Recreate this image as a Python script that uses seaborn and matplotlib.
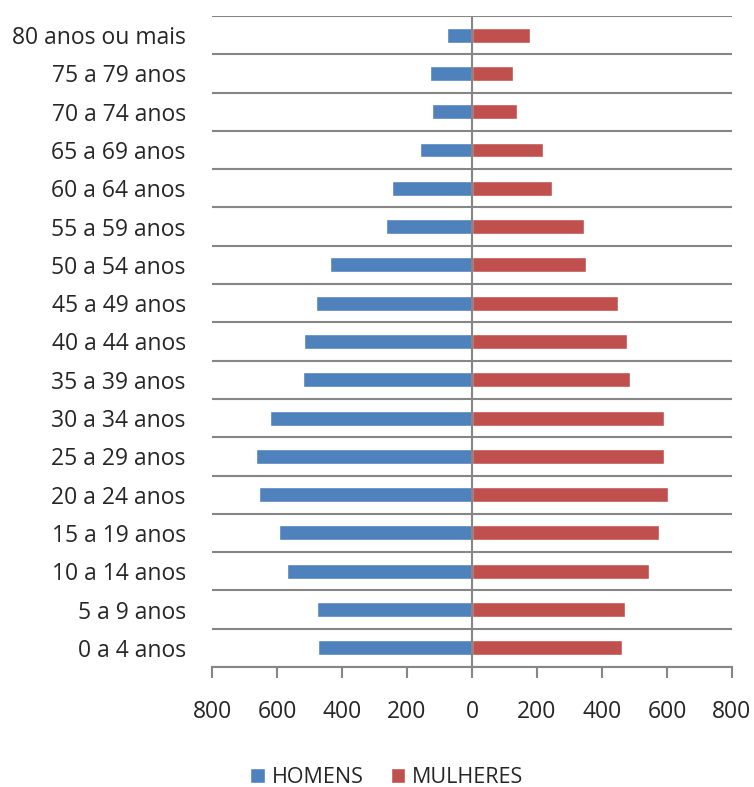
import numpy as np
import pandas as pd
import matplotlib
matplotlib.use('Agg')
import matplotlib.pyplot as plt
import seaborn as sns
from matplotlib.patches import Patch

# Dados (da faixa mais nova para a mais velha)
faixas = ['0 a 4 anos', '5 a 9 anos', '10 a 14 anos', '15 a 19 anos', '20 a 24 anos',
          '25 a 29 anos', '30 a 34 anos', '35 a 39 anos', '40 a 44 anos', '45 a 49 anos',
          '50 a 54 anos', '55 a 59 anos', '60 a 64 anos', '65 a 69 anos', '70 a 74 anos',
          '75 a 79 anos', '80 anos ou mais']
homens = [473, 477, 570, 595, 656, 664, 621, 519, 518, 480, 438, 264, 246, 161, 122, 128, 78]
mulheres = [463, 470, 544, 574, 603, 590, 591, 487, 478, 448, 350, 345, 247, 220, 138, 126, 178]
series = ['HOMENS', 'MULHERES']
cores = ['#4F81BD', '#C0504D']
ticks_x = [-800, -600, -400, -200, 0, 200, 400, 600, 800]

df = pd.DataFrame({
    'faixa': faixas * 2,
    'valor': [-v for v in homens] + mulheres,
    'sexo': [series[0]] * len(faixas) + [series[1]] * len(faixas),
})

sns.set_style('white')
plt.rcParams['font.family'] = ['Open Sans', 'DejaVu Sans']

fig = plt.figure(figsize=(7.54, 7.87), dpi=100)
ax = fig.add_axes([0.2812, 0.1525, 0.6896, 0.8272])

sns.barplot(data=df, x='valor', y='faixa', hue='sexo', order=faixas[::-1],
            hue_order=series, palette=cores, dodge=False, width=0.39,
            orient='h', ax=ax, legend=False, saturation=1)

ax.set_xlim(-800, 800)
ax.set_ylim(len(faixas) - 0.5, -0.5)
ax.set_xticks(ticks_x)
ax.set_xticklabels([str(abs(t)) for t in ticks_x])
ax.set_xlabel('')
ax.set_ylabel('')

# linhas de grade entre as categorias
ax.set_yticks(np.arange(-0.5, len(faixas), 1), minor=True)
ax.grid(True, which='minor', axis='y', color='#868686', linewidth=1.5)
ax.grid(False, which='major')
ax.axvline(0, color='#868686', linewidth=1.5, zorder=3)

for s in ['left', 'right', 'top']:
    ax.spines[s].set_visible(False)
ax.spines['bottom'].set_color('#868686')
ax.spines['bottom'].set_linewidth(1.5)

ax.tick_params(axis='x', which='major', direction='out', length=8, width=1.5,
               color='#868686', labelsize=16.5, pad=16, bottom=True)
ax.tick_params(axis='y', which='both', length=0, labelsize=16.5, pad=19)

handles = [Patch(facecolor=c, label=s) for c, s in zip(cores, series)]
fig.legend(handles=handles, loc='center', bbox_to_anchor=(0.513, 0.012), ncol=2,
           frameon=False, fontsize=15.5, handlelength=0.68, handleheight=0.68,
           handletextpad=0.33, columnspacing=1.25, borderpad=0)

fig.savefig('out.png', dpi=100)
